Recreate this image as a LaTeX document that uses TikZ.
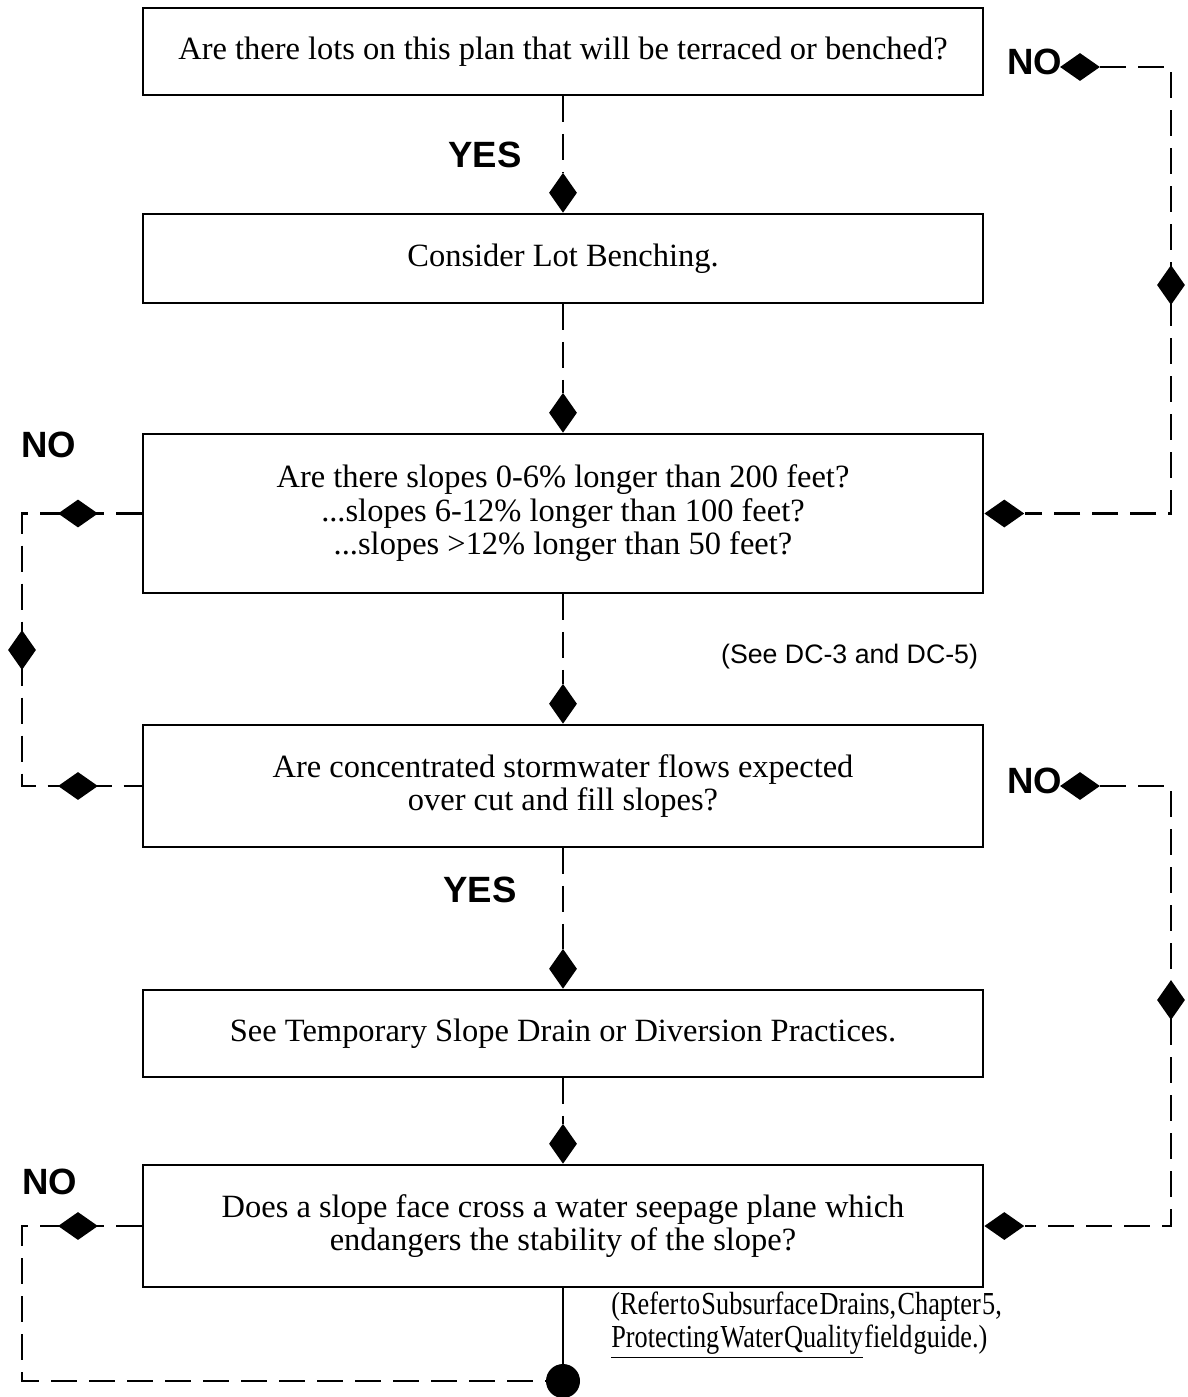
\documentclass[tikz,border=0pt]{standalone}
\usepackage{fontspec}
\setmainfont{Liberation Serif}
\newfontfamily\labelsans{Liberation Sans}
\newfontfamily\narrowserif[FakeStretch=0.82,WordSpace=0.2]{Liberation Serif}
\usetikzlibrary{shapes.geometric}

\begin{document}
\begin{tikzpicture}[x=0.025cm,y=-0.025cm]

		\tikzstyle{question box}=[draw, line width=1.3pt, minimum width=21cm, align=center, font=\fontsize{23.1}{23.8}\selectfont]
		\tikzstyle{flow}=[line width=1.9pt, dash pattern=on 0.65cm off 0.3cm]
		\tikzstyle{flow solid}=[line width=1.9pt]
		\tikzstyle{down mark}=[diamond, fill, inner sep=0pt, minimum width=0.7cm, minimum height=1cm]
		\tikzstyle{side mark}=[diamond, fill, inner sep=0pt, minimum width=1cm, minimum height=0.7cm]
		\tikzstyle{answer}=[font=\labelsans\bfseries\fontsize{26}{26}\selectfont]

		\useasboundingbox (0,0) rectangle (1188,1397);

		%question boxes
		\node [question box, minimum height=2.175cm] (lots) at (563,51.5) {Are there lots on this plan that will be terraced or benched?};
		\node [question box, minimum height=2.225cm] (bench) at (563,258.5) {Consider Lot Benching.};
		\node [question box, minimum height=3.975cm] (slopes) at (563,513.5) {Are there slopes 0-6\% longer than 200 feet?\\...slopes 6-12\% longer than 100 feet?\\...slopes >12\% longer than 50 feet?};
		\node [question box, minimum height=3.05cm] (flows) at (563,786) {Are concentrated stormwater flows expected\\over cut and fill slopes?};
		\node [question box, minimum height=2.175cm] (drain) at (563,1033.5) {See Temporary Slope Drain or Diversion Practices.};
		\node [question box, minimum height=3.05cm] (seep) at (563,1226) {Does a slope face cross a water seepage plane which\\endangers the stability of the slope?};

		%diamonds on the way down
		\node [down mark, anchor=south] (m1) at (bench.north) {};
		\node [down mark, anchor=south] (m2) at (slopes.north) {};
		\node [down mark, anchor=south] (m3) at (flows.north) {};
		\node [down mark, anchor=south] (m4) at (drain.north) {};
		\node [down mark, anchor=south] (m5) at (seep.north) {};
		\node [circle, fill, inner sep=0pt, minimum size=0.85cm] (end) at (563,1381) {};

		%yes labels
		\node [answer] (yes1) at (485,155) {YES};
		\node [answer] (yes2) at (480,890) {YES};

		%middle line
		\draw [flow] (lots) -- (m1);
		\draw [flow] (bench) -- (m2);
		\draw [flow] (slopes) -- (m3);
		\draw [flow] (flows) -- (m4);
		\draw [flow] (drain) -- (m5);
		\draw [flow solid] (seep) -- (end);

		%notes
		\node [font=\labelsans\fontsize{19}{19}\selectfont, anchor=east] (see) at (983,657) {(See DC-3 and DC-5)};
		\node [font=\narrowserif\fontsize{22.8}{23.5}\selectfont, align=left, anchor=north west, inner sep=0pt] (refer) at (611,1292) {(Refer to Subsurface Drains, Chapter 5,\\\underline{Protecting Water Quality} field guide.)};

		%no loops
		\coordinate (lx) at (22,0);
		\coordinate (rx) at (1171,0);

		%right, top
		\node [answer] (no1) at (1035,62) {NO};
		\node [side mark] (n1) at (1080,67) {};
		\node [side mark, anchor=west] (s1) at (slopes.east) {};
		\draw [flow] (n1) -- (n1 -| rx) -- (s1 -| rx) -- (s1);
		\node [down mark] (r1) at (1171,285) {};

		%left, top
		\node [answer] (no2) at (49,445) {NO};
		\node [side mark] (w1) at (78,513.5) {};
		\node [side mark] (w2) at (78,786) {};
		\draw [flow] (slopes) -- (slopes.west -| lx) -- (flows.west -| lx) -- (flows);
		\node [down mark] (l1) at (22,650) {};

		%right, bottom
		\node [answer] (no3) at (1035,781) {NO};
		\node [side mark] (n2) at (1080,786) {};
		\node [side mark, anchor=west] (s2) at (seep.east) {};
		\draw [flow] (n2) -- (n2 -| rx) -- (s2 -| rx) -- (s2);
		\node [down mark] (r2) at (1171,1000) {};

		%left, bottom
		\node [answer] (no4) at (50,1182) {NO};
		\node [side mark] (w3) at (78,1226) {};
		\draw [flow] (seep) -- (seep.west -| lx) |- (end);

\end{tikzpicture}
\end{document}
